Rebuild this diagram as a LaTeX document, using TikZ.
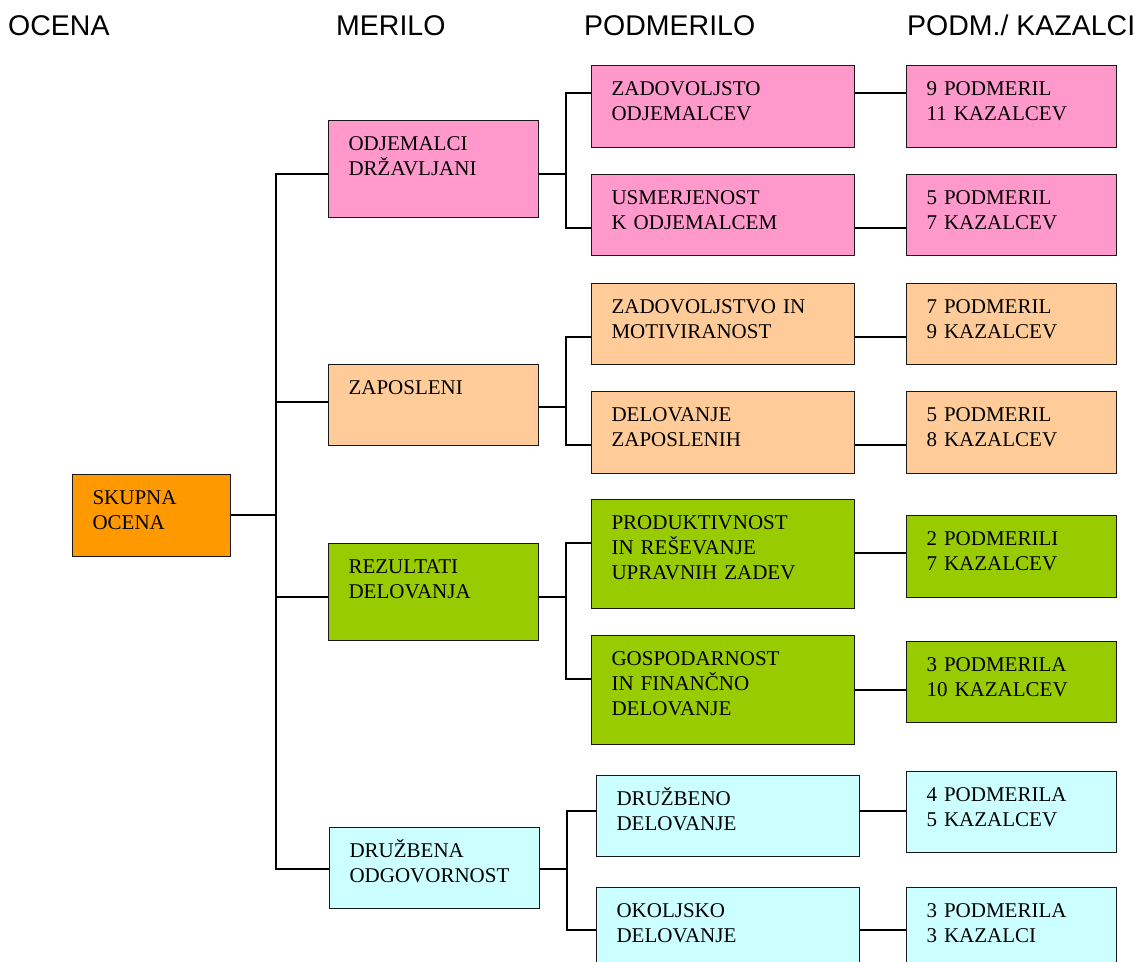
\documentclass[tikz,border=0pt]{standalone}
\usepackage{fontspec}
\setmainfont{Liberation Serif}
\newfontfamily\headfont{Liberation Sans}
\usepackage{tikz}
\definecolor{ocena}{HTML}{FF9900}
\definecolor{odj}{HTML}{FF99CC}
\definecolor{zap}{HTML}{FFCC99}
\definecolor{rez}{HTML}{99CC00}
\definecolor{dru}{HTML}{CCFFFF}
\newcommand\boxfont{\fontsize{21}{25}\selectfont}

\begin{document}
\begin{tikzpicture}[x=1pt, y=-1pt,
  head/.style={anchor=base west, inner sep=0pt, font=\headfont\fontsize{28.5}{32}\selectfont},
  box/.style={draw=black!90, line width=1.1pt, fill=#1, anchor=north west, align=left, inner xsep=20pt, inner ysep=0pt, text height=30pt, font=\boxfont},
  cA/.style={text width=118pt}, cB/.style={text width=170pt}, cC/.style={text width=223pt}, cD/.style={text width=170pt},
  con/.style={line width=1.5pt}]
\useasboundingbox (0,0) rectangle (1140,961);
\node[head] (hOcena) at (8,35) {OCENA};
\node[head] (hMerilo) at (336,35) {MERILO};
\node[head] (hPodmerilo) at (584,35) {PODMERILO};
\node[head] (hKazalci) at (907,35) {PODM./ KAZALCI};

\node[box=ocena, cA, text depth=52pt] (sk) at (72,474) {SKUPNA\\OCENA};

\node[box=odj, cB, text depth=67pt] (odj) at (328,120) {ODJEMALCI\\DRŽAVLJANI};
\node[box=zap, cB, text depth=51pt] (zap) at (328,364) {ZAPOSLENI};
\node[box=rez, cB, text depth=67pt] (rez) at (328,543) {REZULTATI\\DELOVANJA};
\node[box=dru, cB, text depth=51pt] (dru) at (329,827) {DRUŽBENA\\ODGOVORNOST};

\node[box=odj, cC, text depth=52pt] (zo) at (591,65) {ZADOVOLJSTO\\ODJEMALCEV};
\node[box=odj, cC, text depth=51pt] (uo) at (591,174) {USMERJENOST\\K ODJEMALCEM};
\node[box=zap, cC, text depth=51pt] (zm) at (591,283) {ZADOVOLJSTVO IN\\MOTIVIRANOST};
\node[box=zap, cC, text depth=52pt] (dz) at (591,391) {DELOVANJE\\ZAPOSLENIH};
\node[box=rez, cC, text depth=79pt] (pr) at (591,499) {PRODUKTIVNOST\\IN REŠEVANJE\\UPRAVNIH ZADEV};
\node[box=rez, cC, text depth=79pt] (go) at (591,635) {GOSPODARNOST\\IN FINANČNO\\DELOVANJE};
\node[box=dru, cC, text depth=51pt] (dd) at (596,775) {DRUŽBENO\\DELOVANJE};
\node[box=dru, cC, text depth=51pt] (od) at (596,887) {OKOLJSKO\\DELOVANJE};

\node[box=odj, cD, text depth=52pt] (k1) at (906,65) {9 PODMERIL\\11 KAZALCEV};
\node[box=odj, cD, text depth=51pt] (k2) at (906,174) {5 PODMERIL\\7 KAZALCEV};
\node[box=zap, cD, text depth=51pt] (k3) at (906,283) {7 PODMERIL\\9 KAZALCEV};
\node[box=zap, cD, text depth=52pt] (k4) at (906,391) {5 PODMERIL\\8 KAZALCEV};
\node[box=rez, cD, text depth=52pt] (k5) at (906,515) {2 PODMERILI\\7 KAZALCEV};
\node[box=rez, cD, text depth=51pt] (k6) at (906,641) {3 PODMERILA\\10 KAZALCEV};
\node[box=dru, cD, text depth=51pt] (k7) at (906,771) {4 PODMERILA\\5 KAZALCEV};
\node[box=dru, cD, text depth=51pt] (k8) at (906,887) {3 PODMERILA\\3 KAZALCI};

\draw[con] ([yshift=-41pt]sk.north east) -- ++(45pt,0) coordinate (t0);
\draw[con] ([yshift=-54pt]odj.north west) -| (t0) |- ([yshift=-42pt]dru.north west);
\draw[con] ([yshift=-38pt]zap.north west) -| (t0);
\draw[con] ([yshift=-54pt]rez.north west) -| (t0);

\draw[con] ([yshift=-54pt]odj.north east) -- ++(27pt,0) coordinate (t1);
\draw[con] ([yshift=-28pt]zo.north west) -| (t1) |- ([yshift=-54pt]uo.north west);
\draw[con] ([yshift=-43pt]zap.north east) -- ++(27pt,0) coordinate (t2);
\draw[con] ([yshift=-54pt]zm.north west) -| (t2) |- ([yshift=-54pt]dz.north west);
\draw[con] ([yshift=-54pt]rez.north east) -- ++(27pt,0) coordinate (t3);
\draw[con] ([yshift=-44pt]pr.north west) -| (t3) |- ([yshift=-44pt]go.north west);
\draw[con] ([yshift=-42pt]dru.north east) -- ++(27pt,0) coordinate (t4);
\draw[con] ([yshift=-36pt]dd.north west) -| (t4) |- ([yshift=-43pt]od.north west);

\draw[con] ([yshift=-28pt]zo.north east) -- ([yshift=-28pt]k1.north west);
\draw[con] ([yshift=-54pt]uo.north east) -- ([yshift=-54pt]k2.north west);
\draw[con] ([yshift=-54pt]zm.north east) -- ([yshift=-54pt]k3.north west);
\draw[con] ([yshift=-54pt]dz.north east) -- ([yshift=-54pt]k4.north west);
\draw[con] ([yshift=-54pt]pr.north east) -- ([yshift=-38pt]k5.north west);
\draw[con] ([yshift=-55pt]go.north east) -- ([yshift=-49pt]k6.north west);
\draw[con] ([yshift=-36pt]dd.north east) -- ([yshift=-40pt]k7.north west);
\draw[con] ([yshift=-43pt]od.north east) -- ([yshift=-43pt]k8.north west);
\end{tikzpicture}
\end{document}
